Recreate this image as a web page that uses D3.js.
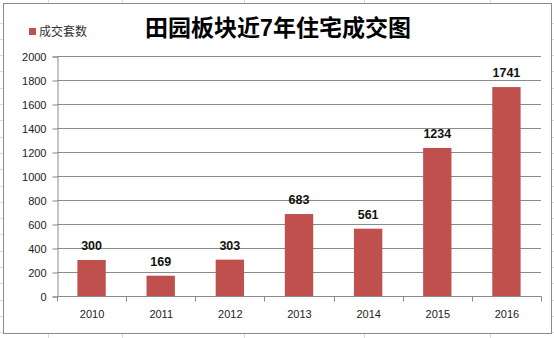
<!DOCTYPE html>
<html>
<head>
<meta charset="utf-8">
<script src="https://cdn.jsdelivr.net/npm/d3@7/dist/d3.min.js"></script>
<style>
  html, body { margin: 0; padding: 0; background: #fff; }
  svg { display: block; }
  text { font-family: "Liberation Sans", "Noto Sans CJK SC", sans-serif; }
</style>
</head>
<body>
<svg id="chart" width="554" height="338"></svg>
<script>
// Residential transactions in the Tianyuan district, 2010–2016
const years = ["2010", "2011", "2012", "2013", "2014", "2015", "2016"];
const deals = [300, 169, 303, 683, 561, 1234, 1741];
const yTicks = [0, 200, 400, 600, 800, 1000, 1200, 1400, 1600, 1800, 2000];
const titleText = "田园板块近7年住宅成交图";
const legendText = "成交套数";

const W = 554, H = 338;
const svg = d3.select("#chart");

// spreadsheet cell lines behind the chart object
const sheet = svg.append("g").attr("stroke", "#dadada").attr("stroke-width", 1);
const colXs = [48.5, 122.5, 244.5, 364.5, 490.5];
colXs.forEach(x => sheet.append("line").attr("x1", x).attr("x2", x).attr("y1", 0).attr("y2", H));
for (let y = 22.5; y < H; y += 16.3) {
  const yy = Math.round(y) + 0.5;
  sheet.append("line").attr("x1", 0).attr("x2", W).attr("y1", yy).attr("y2", yy);
}

// chart frame
svg.append("rect")
  .attr("x", 3.5).attr("y", 3.5).attr("width", 548).attr("height", 330)
  .attr("fill", "#fff").attr("stroke", "#8c8c8c").attr("stroke-width", 1);

const plot = { left: 57, right: 541, top: 56, bottom: 296 };

const x = d3.scaleBand().domain(years).range([plot.left, plot.right]).paddingInner(0).paddingOuter(0);
const y = d3.scaleLinear().domain([0, 2000]).range([plot.bottom, plot.top]);

// horizontal gridlines
svg.append("g")
  .selectAll("line")
  .data(yTicks.filter(t => t > 0))
  .join("line")
  .attr("x1", plot.left).attr("x2", plot.right)
  .attr("y1", d => Math.round(y(d)) + 0.5).attr("y2", d => Math.round(y(d)) + 0.5)
  .attr("stroke", "#8a8a8a").attr("stroke-width", 1);

// y axis
const yAxis = svg.append("g")
  .attr("transform", `translate(${plot.left + 0.5},0.5)`)
  .call(d3.axisLeft(y).tickValues(yTicks).tickSize(5).tickPadding(6).tickFormat(d3.format("d")));
yAxis.select(".domain").attr("stroke", "#8a8a8a");
yAxis.selectAll(".tick line").attr("stroke", "#8a8a8a");
yAxis.selectAll("text").attr("font-size", 11).attr("fill", "#222");

// x axis with ticks on band boundaries
const xAxisG = svg.append("g").attr("transform", `translate(0.5,${plot.bottom + 0.5})`);
xAxisG.append("line")
  .attr("x1", plot.left).attr("x2", plot.right).attr("y1", 0).attr("y2", 0)
  .attr("stroke", "#8a8a8a");
const bounds = years.map(d => x(d)).concat([x(years[years.length - 1]) + x.bandwidth()]);
xAxisG.selectAll("line.b")
  .data(bounds)
  .join("line")
  .attr("class", "b")
  .attr("x1", d => Math.round(d)).attr("x2", d => Math.round(d))
  .attr("y1", 0).attr("y2", 5)
  .attr("stroke", "#8a8a8a");
xAxisG.selectAll("text")
  .data(years)
  .join("text")
  .attr("x", d => x(d) + x.bandwidth() / 2)
  .attr("y", 21)
  .attr("text-anchor", "middle")
  .attr("font-size", 11)
  .attr("fill", "#222")
  .text(d => d);

// bars
const barW = x.bandwidth() * 0.41;
const data = years.map((yr, i) => ({ yr, v: deals[i] }));
svg.append("g")
  .selectAll("rect")
  .data(data)
  .join("rect")
  .attr("x", d => x(d.yr) + (x.bandwidth() - barW) / 2)
  .attr("width", barW)
  .attr("y", d => y(d.v))
  .attr("height", d => y(0) - y(d.v))
  .attr("fill", "#C0504D");

// value labels
svg.append("g")
  .selectAll("text")
  .data(data)
  .join("text")
  .attr("x", d => x(d.yr) + x.bandwidth() / 2)
  .attr("y", d => y(d.v) - 10)
  .attr("text-anchor", "middle")
  .attr("font-size", 12.5)
  .attr("font-weight", "bold")
  .attr("fill", "#111")
  .text(d => d.v);

// title
svg.append("text")
  .attr("x", 278).attr("y", 36)
  .attr("text-anchor", "middle")
  .attr("font-family", "'Noto Sans CJK SC', sans-serif")
  .attr("font-size", 23)
  .attr("font-weight", "bold")
  .attr("fill", "#000")
  .text(titleText);

// legend
svg.append("rect").attr("x", 29).attr("y", 28).attr("width", 7).attr("height", 7).attr("fill", "#C0504D");
svg.append("text")
  .attr("x", 39).attr("y", 36)
  .attr("font-family", "'Noto Sans CJK SC', sans-serif")
  .attr("font-size", 12)
  .attr("fill", "#333")
  .text(legendText);
</script>
</body>
</html>
